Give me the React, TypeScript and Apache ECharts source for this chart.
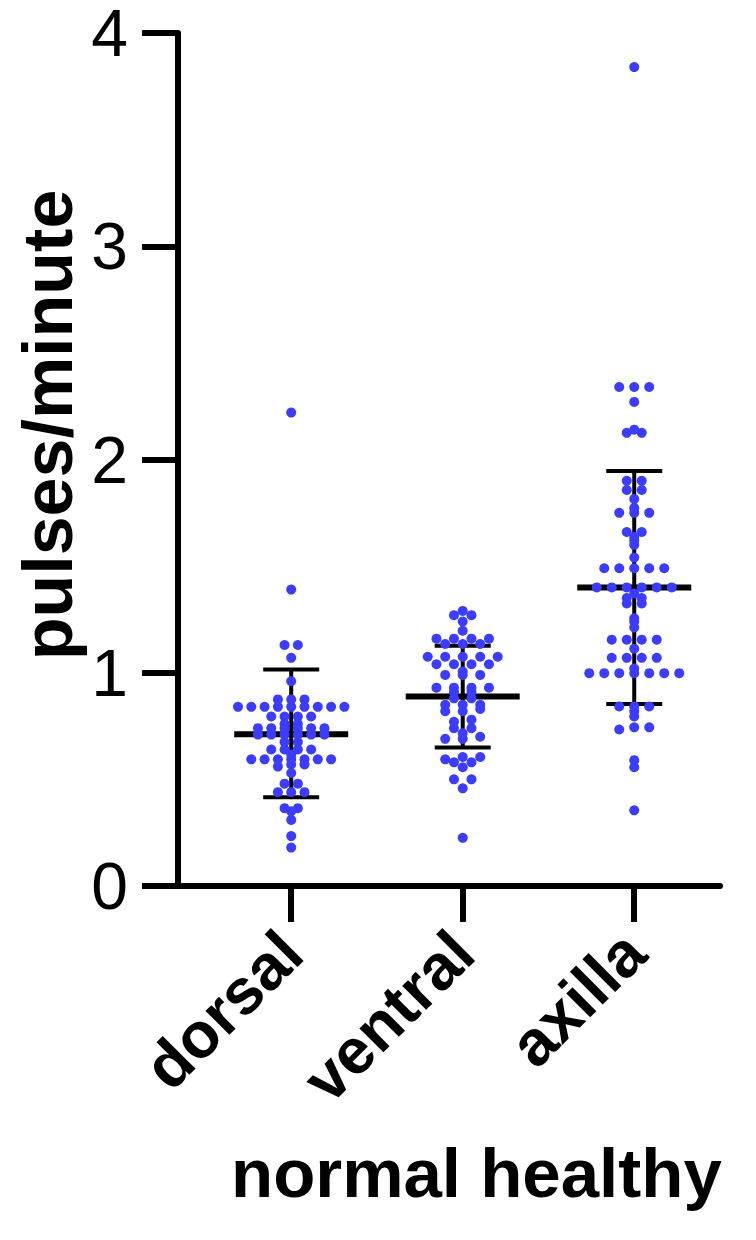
import React, { useEffect, useRef } from "react";
import * as echarts from "echarts";

const categories = ["dorsal", "ventral", "axilla"];

const dorsalValues = [
  2.22, 1.39, 1.13, 1.13, 1.07, 0.96,
  0.875, 0.875, 0.875,
  0.84, 0.84, 0.84, 0.84, 0.84, 0.84, 0.84, 0.84, 0.84,
  0.795, 0.795, 0.795, 0.795,
  0.76, 0.76,
  0.74, 0.74, 0.74, 0.74, 0.74, 0.74,
  0.71, 0.71, 0.71, 0.71, 0.71, 0.71,
  0.675, 0.675,
  0.64, 0.64, 0.64, 0.64,
  0.617,
  0.594, 0.594, 0.594, 0.594, 0.594, 0.594, 0.594,
  0.57, 0.57, 0.56,
  0.53,
  0.48, 0.48,
  0.44, 0.44, 0.44,
  0.365, 0.365, 0.35,
  0.31, 0.234, 0.18,
];

const ventralValues = [
  1.29, 1.27, 1.27, 1.24, 1.197,
  1.16, 1.16, 1.16, 1.16,
  1.135, 1.135, 1.135,
  1.075, 1.075, 1.075, 1.075, 1.075,
  1.04, 1.04, 1.04, 1.04,
  1.006,
  0.99, 0.99, 0.99,
  0.93, 0.93, 0.93, 0.93,
  0.91, 0.91,
  0.88, 0.88,
  0.85, 0.85, 0.85,
  0.83,
  0.82, 0.82,
  0.78, 0.77,
  0.74, 0.74,
  0.716, 0.7,
  0.69, 0.69,
  0.605, 0.605, 0.594,
  0.58, 0.58,
  0.557,
  0.5, 0.5,
  0.458, 0.226,
];

const axillaValues = [
  3.84,
  2.34, 2.34, 2.34, 2.27,
  2.14, 2.125, 2.125,
  1.9, 1.9, 1.857, 1.857, 1.815,
  1.773, 1.75, 1.75, 1.75,
  1.66, 1.66, 1.637, 1.62, 1.6,
  1.54,
  1.49, 1.49, 1.49, 1.49, 1.49,
  1.4, 1.4, 1.4, 1.4, 1.4, 1.4,
  1.372, 1.35, 1.35, 1.325, 1.325,
  1.255, 1.24, 1.212,
  1.155, 1.155, 1.155, 1.155,
  1.113,
  1.07, 1.07, 1.07, 1.07,
  1.02,
  0.998, 0.998, 0.998, 0.998, 0.998, 0.998, 0.998,
  0.842, 0.842, 0.842, 0.82, 0.795,
  0.744, 0.744, 0.734,
  0.59, 0.557, 0.355,
];

const groupValues = [dorsalValues, ventralValues, axillaValues];
const meanValues = [0.712, 0.889, 1.4];
const sdUpper = [1.015, 1.127, 1.946];
const sdLower = [0.416, 0.65, 0.853];

const yMin = 0;
const yMax = 4;
const yInterval = 1;
const xMin = -0.66;
const xMax = 2.5;
const yAxisTitle = "pulses/minute";
const xAxisTitle = "normal healthy";

const WIDTH = 756;
const HEIGHT = 1240;
const GRID = { left: 178, top: 30, right: 36, bottom: 354 };
const DOT = 10;
const GROUP_SPACING = [13.3, 17.5, 15];
const ROW_TOL = 0.012;
const FONT = "'Liberation Sans', Arial, sans-serif";

// GraphPad-like row layout: values that fall in the same row are spread
// symmetrically around the group centre.
function rows(values: number[], group: number, pxX: number, spacing: number) {
  const sorted = [...values].sort((a, b) => a - b);
  const out: number[][] = [];
  let i = 0;
  while (i < sorted.length) {
    const start = sorted[i];
    let j = i;
    while (j < sorted.length && sorted[j] - start < ROW_TOL) j++;
    const n = j - i;
    for (let k = 0; k < n; k++) {
      const off = (k - (n - 1) / 2) * spacing;
      out.push([group + off / pxX, sorted[i + k]]);
    }
    i = j;
  }
  return out;
}

export default function App() {
  const ref = useRef<HTMLDivElement>(null);

  useEffect(() => {
    document.body.style.margin = "0";
    if (!ref.current) return;
    const chart = echarts.init(ref.current, undefined, { renderer: "svg" });

    const gridW = WIDTH - GRID.left - GRID.right;
    const pxX = gridW / (xMax - xMin);

    const dots: number[][] = [];
    groupValues.forEach((vals, g) => {
      dots.push(...rows(vals, g, pxX, GROUP_SPACING[g]));
    });

    const bars = categories.map((_, i) => [i, meanValues[i], sdLower[i], sdUpper[i]]);

    chart.setOption({
      animation: false,
      backgroundColor: "#ffffff",
      title: {
        text: xAxisTitle,
        left: 226,
        top: 1134,
        textStyle: { fontFamily: FONT, fontWeight: "bold", fontSize: 69, color: "#000" },
      },
      graphic: [
        {
          type: "text",
          x: 48,
          y: 425,
          rotation: Math.PI / 2,
          style: {
            text: yAxisTitle,
            fontFamily: FONT,
            fontWeight: "bold",
            fontSize: 70,
            fill: "#000",
            align: "center",
            verticalAlign: "middle",
          },
        },
      ],
      grid: { ...GRID, containLabel: false },
      xAxis: {
        type: "value",
        min: xMin,
        max: xMax,
        splitLine: { show: false },
        axisLine: { show: true, onZero: false, lineStyle: { color: "#000", width: 6 } },
        axisTick: {
          show: true,
          length: 36,
          lineStyle: { color: "#000", width: 6 },
          customValues: [0, 1, 2],
        },
        axisLabel: {
          show: true,
          customValues: [0, 1, 2],
          rotate: 45,
          margin: 56,
          fontFamily: FONT,
          fontWeight: "bold",
          fontSize: 64,
          color: "#000",
          formatter: (v: number) => categories[Math.round(v)] ?? "",
        },
      },
      yAxis: {
        type: "value",
        min: yMin,
        max: yMax,
        interval: yInterval,
        splitLine: { show: false },
        axisLine: { show: true, onZero: false, lineStyle: { color: "#000", width: 6 } },
        axisTick: { show: true, length: 36, lineStyle: { color: "#000", width: 6 } },
        axisLabel: {
          margin: 50,
          fontFamily: FONT,
          fontSize: 66,
          lineHeight: 54,
          color: "#000",
        },
      },
      series: [
        {
          type: "custom",
          z: 2,
          data: bars,
          renderItem: (params: any, api: any) => {
            const g = api.value(0);
            const mid = api.coord([g, api.value(1)]);
            const lo = api.coord([g, api.value(2)]);
            const hi = api.coord([g, api.value(3)]);
            const stroke = { stroke: "#000", lineWidth: 4 };
            return {
              type: "group",
              children: [
                { type: "line", shape: { x1: hi[0], y1: hi[1], x2: lo[0], y2: lo[1] }, style: stroke },
                { type: "line", shape: { x1: hi[0] - 28, y1: hi[1], x2: hi[0] + 28, y2: hi[1] }, style: stroke },
                { type: "line", shape: { x1: lo[0] - 28, y1: lo[1], x2: lo[0] + 28, y2: lo[1] }, style: stroke },
                {
                  type: "line",
                  shape: { x1: mid[0] - 57, y1: mid[1], x2: mid[0] + 57, y2: mid[1] },
                  style: { stroke: "#000", lineWidth: 6 },
                },
              ],
            };
          },
        },
        {
          type: "scatter",
          z: 3,
          symbol: "circle",
          symbolSize: DOT,
          itemStyle: { color: "#3c3cff", opacity: 1 },
          data: dots,
        },
      ],
    });

    return () => chart.dispose();
  }, []);

  return <div ref={ref} style={{ width: WIDTH, height: HEIGHT }} />;
}
